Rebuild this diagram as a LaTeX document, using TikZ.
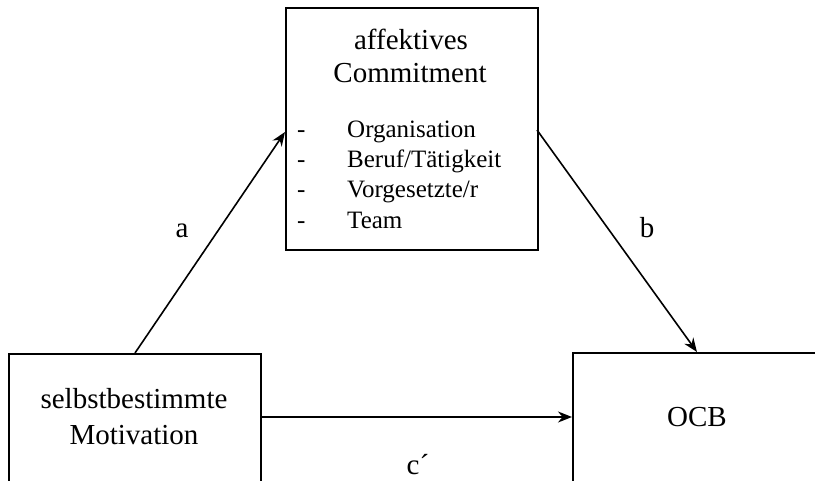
\documentclass[tikz,border=0pt]{standalone}
\usepackage{fontspec}
\setmainfont{Liberation Serif}
\usetikzlibrary{arrows.meta}
\begin{document}
\begin{tikzpicture}[x=1pt,y=-1pt,
  box/.style={draw,line width=1.7pt,rectangle,inner sep=0pt,anchor=north west},
  head/.style={font=\fontsize{29}{33}\selectfont,anchor=base,inner sep=0pt},
  item/.style={font=\fontsize{25}{30}\selectfont,anchor=base west,inner sep=0pt},
  lbl/.style={font=\fontsize{29}{33}\selectfont,anchor=base,inner sep=0pt},
  arr/.style={line width=1.6pt,-{Stealth[length=14pt,width=11pt]}}]
\useasboundingbox (0,0) rectangle (815,481);
% boxes
\node[box,minimum width=252pt,minimum height=242pt] (aff) at (285,7) {};
\node[box,minimum width=252pt,minimum height=160pt] (mot) at (8,353) {};
\node[box,minimum width=270pt,minimum height=160pt] (ocb) at (572,352) {};
% texts
\node[head] (t1) at (411,50) {affektives};
\node[head] (t2) at (410,83) {Commitment};
\node[item] (d1) at (297,138) {-};
\node[item] (d2) at (297,168) {-};
\node[item] (d3) at (297,198) {-};
\node[item] (d4) at (297,229) {-};
\node[item] (i1) at (347,138) {Organisation};
\node[item] (i2) at (347,168) {Beruf/Tätigkeit};
\node[item] (i3) at (347,198) {Vorgesetzte/r};
\node[item] (i4) at (347,229) {Team};
\node[head] (m1) at (134,409) {selbstbestimmte};
\node[head] (m2) at (134,444) {Motivation};
\node[head] (o1) at (697,427) {OCB};
% connector end points
\coordinate (aS) at (135,353);
\coordinate (aE) at (285,132);
\coordinate (bS) at (537,130);
\coordinate (bE) at (697,352);
\coordinate (cS) at (260,417);
\coordinate (cE) at (572,417);
\draw[arr] (aS) -- (aE);
\draw[arr] (bS) -- (bE);
\draw[arr] (cS) -- (cE);
\node[lbl] (la) at (182,238) {a};
\node[lbl] (lb) at (647,238) {b};
\node[lbl] (lc) at (418,474) {c´};
\end{tikzpicture}
\end{document}
